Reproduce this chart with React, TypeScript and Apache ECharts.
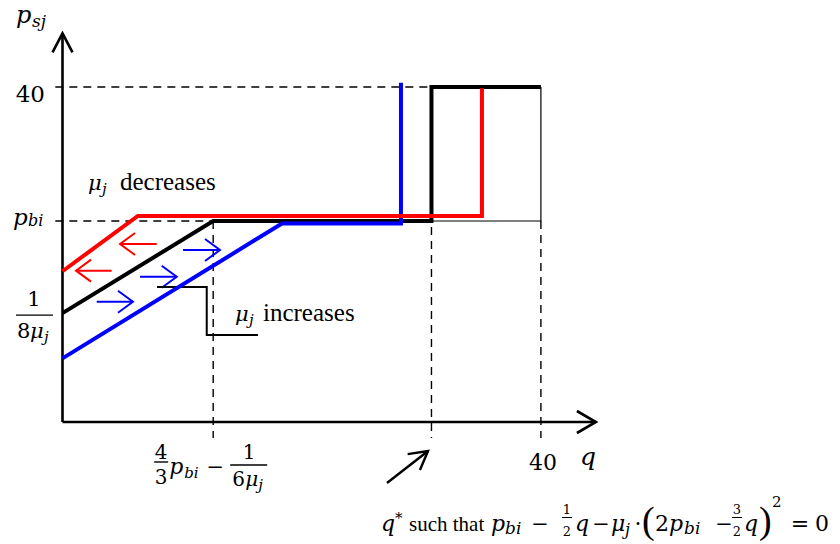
import { useEffect, useRef } from "react";
import * as echarts from "echarts";

type Pt = [number, number];

// Price schedules p_sj(q) for the reference, higher and lower μ_j
const BLACK_CURVE: Pt[] = [[0, 13], [12.6, 24], [30.85, 24], [30.85, 40], [40, 40]];
const RED_CURVE: Pt[] = [[0, 18], [6.3, 24.6], [35.07, 24.6], [35.07, 39.85]];
const BLUE_CURVE: Pt[] = [[0, 7.6], [18.35, 23.7], [28.3, 23.7], [28.3, 40.5]];

// Reference levels on both axes
const P_MAX = 40;
const P_BI = 24;
const INTERCEPT = 13;
const Q_KINK = 12.6;
const Q_STAR = 30.85;
const Q_MAX = 40;
const GUIDE_BOTTOM = -1.9;
const GUIDE_LEFT = -0.6;

// Thin outline closing the upper right block
const BOX_EDGE: Pt[] = [[Q_STAR, P_BI], [Q_MAX, P_BI], [Q_MAX, P_MAX]];

// Shift arrows, each as [tail, tip]
const RED_ARROWS: [Pt, Pt][] = [
  [[7.88, 21.25], [4.81, 21.25]],
  [[4.11, 18.07], [1.13, 18.07]],
];
const BLUE_ARROWS: [Pt, Pt][] = [
  [[10.08, 20.54], [13.17, 20.54]],
  [[6.48, 17.35], [9.55, 17.35]],
  [[2.86, 14.36], [5.89, 14.36]],
];

// Bracket leading to the "μ_j increases" note
const CALLOUT: Pt[] = [[7.9, 16.12], [12.06, 16.12], [12.06, 10.39], [16.35, 10.39]];

// Pointer towards q*
const QSTAR_POINTER: [Pt, Pt] = [[27.13, -7.28], [30.56, -3.46]];

// Axis extents
const X_AXIS_END = 44.6;
const Y_AXIS_END = 46.4;

// Canvas and scale
const W = 840;
const H = 544;
const ORIGIN_X = 62.5;
const ORIGIN_Y = 422;
const PX_X = 11.96;
const PX_Y = 8.375;

const X_MIN = -ORIGIN_X / PX_X;
const X_MAX = (W - ORIGIN_X) / PX_X;
const Y_MIN = -(H - ORIGIN_Y) / PX_Y;
const Y_MAX = ORIGIN_Y / PX_Y;

const toPx = (p: Pt): Pt => [ORIGIN_X + p[0] * PX_X, ORIGIN_Y - p[1] * PX_Y];
const fromPx = (p: Pt): Pt => [(p[0] - ORIGIN_X) / PX_X, (ORIGIN_Y - p[1]) / PX_Y];

// Open chevron head at `tip`, built in screen space
function chevron(tail: Pt, tip: Pt, len: number, half: number): Pt[] {
  const a = toPx(tail);
  const b = toPx(tip);
  const dx = b[0] - a[0];
  const dy = b[1] - a[1];
  const d = Math.hypot(dx, dy);
  const ux = dx / d;
  const uy = dy / d;
  const bx = b[0] - ux * len;
  const by = b[1] - uy * len;
  const w1: Pt = [bx - uy * half, by + ux * half];
  const w2: Pt = [bx + uy * half, by - ux * half];
  return [fromPx(w1), tip, fromPx(w2)];
}

type LineOpts = { dash?: boolean; join?: string; z?: number };
function line(data: Pt[], color: string, width: number, o: LineOpts = {}) {
  return {
    type: "line",
    data,
    symbol: "none",
    showSymbol: false,
    silent: true,
    z: o.z ?? 2,
    lineStyle: {
      color,
      width,
      type: o.dash ? [8, 6] : "solid",
      cap: "butt",
      join: o.join ?? "miter",
    },
  };
}

function arrow(tail: Pt, tip: Pt, color: string, width: number, len: number, half: number) {
  return [
    line([tail, tip], color, width, { join: "round", z: 4 }),
    line(chevron(tail, tip, len, half), color, width, { join: "miter", z: 4 }),
  ];
}

// Words in a Times-like face, symbols in a sturdier math-like serif
const WORD_FONT = "Liberation Serif";
const MATH_FONT = "DejaVu Serif";

type TxtOpts = { italic?: boolean; word?: boolean; align?: "left" | "center" | "right" };
function txt(text: string, x: number, baseline: number, size: number, o: TxtOpts = {}) {
  const family = o.word ? WORD_FONT : MATH_FONT;
  return {
    type: "text",
    x,
    y: baseline,
    silent: true,
    style: {
      text,
      font: `${o.italic ? "italic " : ""}${size}px ${family}`,
      fill: "#000",
      align: o.align ?? "left",
      verticalAlign: "bottom",
      lineHeight: size,
      padding: [0, 0, -Math.round(size * (o.word ? 0.22 : 0.24)), 0],
    },
  };
}
const it = (text: string, x: number, baseline: number, size: number) =>
  txt(text, x, baseline, size, { italic: true });

function bar(x1: number, x2: number, y: number, w = 1.4) {
  return {
    type: "line",
    silent: true,
    shape: { x1, y1: y, x2, y2: y },
    style: { stroke: "#000", lineWidth: w },
  };
}

function buildGraphic() {
  const [, y40] = toPx([0, P_MAX]);
  const [, yPbi] = toPx([0, P_BI]);
  const [, yInt] = toPx([0, INTERCEPT]);
  const [xKink] = toPx([Q_KINK, 0]);
  const [xMax] = toPx([Q_MAX, 0]);

  const g: any[] = [];

  // vertical axis title p_sj
  g.push(it("p", 16, 21, 24));
  g.push(it("sj", 32, 25, 17));

  // vertical ticks
  g.push(txt("40", 45, y40 + 12, 23, { align: "right" }));
  g.push(it("p", 13, yPbi + 1, 23));
  g.push(it("bi", 28, yPbi + 3, 16));
  g.push(txt("1", 34, yInt - 9, 21, { align: "center" }));
  g.push(bar(16, 53, yInt + 2));
  g.push(txt("8", 17, yInt + 23, 21));
  g.push(it("μ", 30, yInt + 23, 21));
  g.push(it("j", 44, yInt + 27, 15));

  // notes
  g.push(it("μ", 88, 188, 21));
  g.push(it("j", 102, 192, 15));
  g.push(txt("decreases", 120, 188, 25, { word: true }));
  g.push(it("μ", 235, 319, 21));
  g.push(it("j", 249, 323, 15));
  g.push(txt("increases", 263, 319, 25, { word: true }));

  // horizontal ticks
  g.push(txt("40", xMax + 2, 468, 22, { align: "center" }));
  g.push(it("q", 580, 463, 25));

  // 4/3 p_bi − 1/(6μ_j)
  const k = xKink;
  g.push(txt("4", k - 52, 457, 20, { align: "center" }));
  g.push(bar(k - 59, k - 45, 462));
  g.push(txt("3", k - 52, 482, 20, { align: "center" }));
  g.push(it("p", k - 44, 472, 22));
  g.push(it("bi", k - 29, 476, 15));
  g.push(txt("−", k + 2, 472, 21, { align: "center" }));
  g.push(txt("1", k + 36, 457, 20, { align: "center" }));
  g.push(bar(k + 17, k + 54, 465));
  g.push(txt("6", k + 19, 484, 20));
  g.push(it("μ", k + 32, 484, 20));
  g.push(it("j", k + 45, 488, 15));

  // q* such that p_bi − ½q − μ_j·(2p_bi − 3/2 q)² = 0
  const b = 529;
  g.push(it("q", 381, b, 22));
  g.push(txt("*", 395, b - 8, 15));
  g.push(txt("such that", 409, b, 21, { word: true }));
  g.push(it("p", 491, b, 22));
  g.push(it("bi", 505, b + 3, 17));
  g.push(txt("−", 540, b, 21, { align: "center" }));
  g.push(txt("1", 567, b - 16, 13, { align: "center" }));
  g.push(bar(562, 572, b - 11.5, 1));
  g.push(txt("2", 567, b + 6, 13, { align: "center" }));
  g.push(it("q", 575, b, 22));
  g.push(txt("−", 601, b, 21, { align: "center" }));
  g.push(it("μ", 611, b, 22));
  g.push(it("j", 625, b + 4, 16));
  g.push(txt("·", 638, b, 22, { align: "center" }));
  g.push(txt("(", 642, b + 2, 38, { word: true }));
  g.push(txt("2", 655, b, 22));
  g.push(it("p", 669, b, 22));
  g.push(it("bi", 684, b + 3, 17));
  g.push(txt("−", 724, b, 21, { align: "center" }));
  g.push(txt("3", 737, b - 16, 13, { align: "center" }));
  g.push(bar(732, 742, b - 11.5, 1));
  g.push(txt("2", 737, b + 6, 13, { align: "center" }));
  g.push(it("q", 744, b, 22));
  g.push(txt(")", 759, b + 2, 38, { word: true }));
  g.push(txt("2", 772, b - 24, 15));
  g.push(txt("=", 800, b, 22, { align: "center" }));
  g.push(txt("0", 815, b, 22));

  return g;
}

function buildSeries() {
  const s: any[] = [];

  // dashed guides
  s.push(line([[GUIDE_LEFT, P_MAX], [Q_STAR, P_MAX]], "#000", 1.4, { dash: true, z: 1 }));
  s.push(line([[GUIDE_LEFT, P_BI], [Q_KINK, P_BI]], "#000", 1.4, { dash: true, z: 1 }));
  s.push(line([[Q_KINK, P_BI], [Q_KINK, GUIDE_BOTTOM]], "#000", 1.4, { dash: true, z: 1 }));
  s.push(line([[Q_STAR, P_MAX], [Q_STAR, GUIDE_BOTTOM]], "#000", 1.4, { dash: true, z: 1 }));
  s.push(line([[Q_MAX, P_BI], [Q_MAX, GUIDE_BOTTOM]], "#000", 1.4, { dash: true, z: 1 }));
  s.push(line(BOX_EDGE, "#000", 1.2, { z: 1 }));

  // axes
  const yTail: Pt = [0, 0];
  const yTip: Pt = [0, Y_AXIS_END];
  const xTail: Pt = [0, 0];
  const xTip: Pt = [X_AXIS_END, 0];
  s.push(line([yTail, yTip], "#000", 2.6, { z: 3 }));
  s.push(line(chevron(yTail, yTip, 19, 10), "#000", 2.6, { z: 3 }));
  s.push(line([xTail, xTip], "#000", 2.6, { z: 3 }));
  s.push(line(chevron(xTail, xTip, 19, 11), "#000", 2.6, { z: 3 }));

  // price schedules
  s.push(line(BLACK_CURVE, "#000", 4, { z: 5 }));
  s.push(line(BLUE_CURVE, "#0000ff", 4, { z: 6 }));
  s.push(line(RED_CURVE, "#ff0000", 4, { z: 7 }));

  // shift arrows
  RED_ARROWS.forEach(([a, b]) => s.push(...arrow(a, b, "#ff0000", 2, 15, 11)));
  BLUE_ARROWS.forEach(([a, b]) => s.push(...arrow(a, b, "#0000ff", 2, 15, 11)));

  // callout bracket and q* pointer
  s.push(line(CALLOUT, "#000", 2, { z: 4 }));
  s.push(...arrow(QSTAR_POINTER[0], QSTAR_POINTER[1], "#000", 2.4, 18, 10));

  return s;
}

export default function App() {
  const ref = useRef<HTMLDivElement>(null);

  useEffect(() => {
    if (!ref.current) return;
    const chart = echarts.init(ref.current, undefined, { renderer: "svg" });
    chart.setOption({
      animation: false,
      backgroundColor: "#ffffff",
      grid: { left: 0, right: 0, top: 0, bottom: 0 },
      xAxis: { type: "value", min: X_MIN, max: X_MAX, show: false },
      yAxis: { type: "value", min: Y_MIN, max: Y_MAX, show: false },
      series: buildSeries(),
      graphic: { elements: buildGraphic() },
    });
    return () => chart.dispose();
  }, []);

  return (
    <div
      ref={ref}
      style={{ position: "absolute", left: 0, top: 0, width: W, height: H }}
    />
  );
}
